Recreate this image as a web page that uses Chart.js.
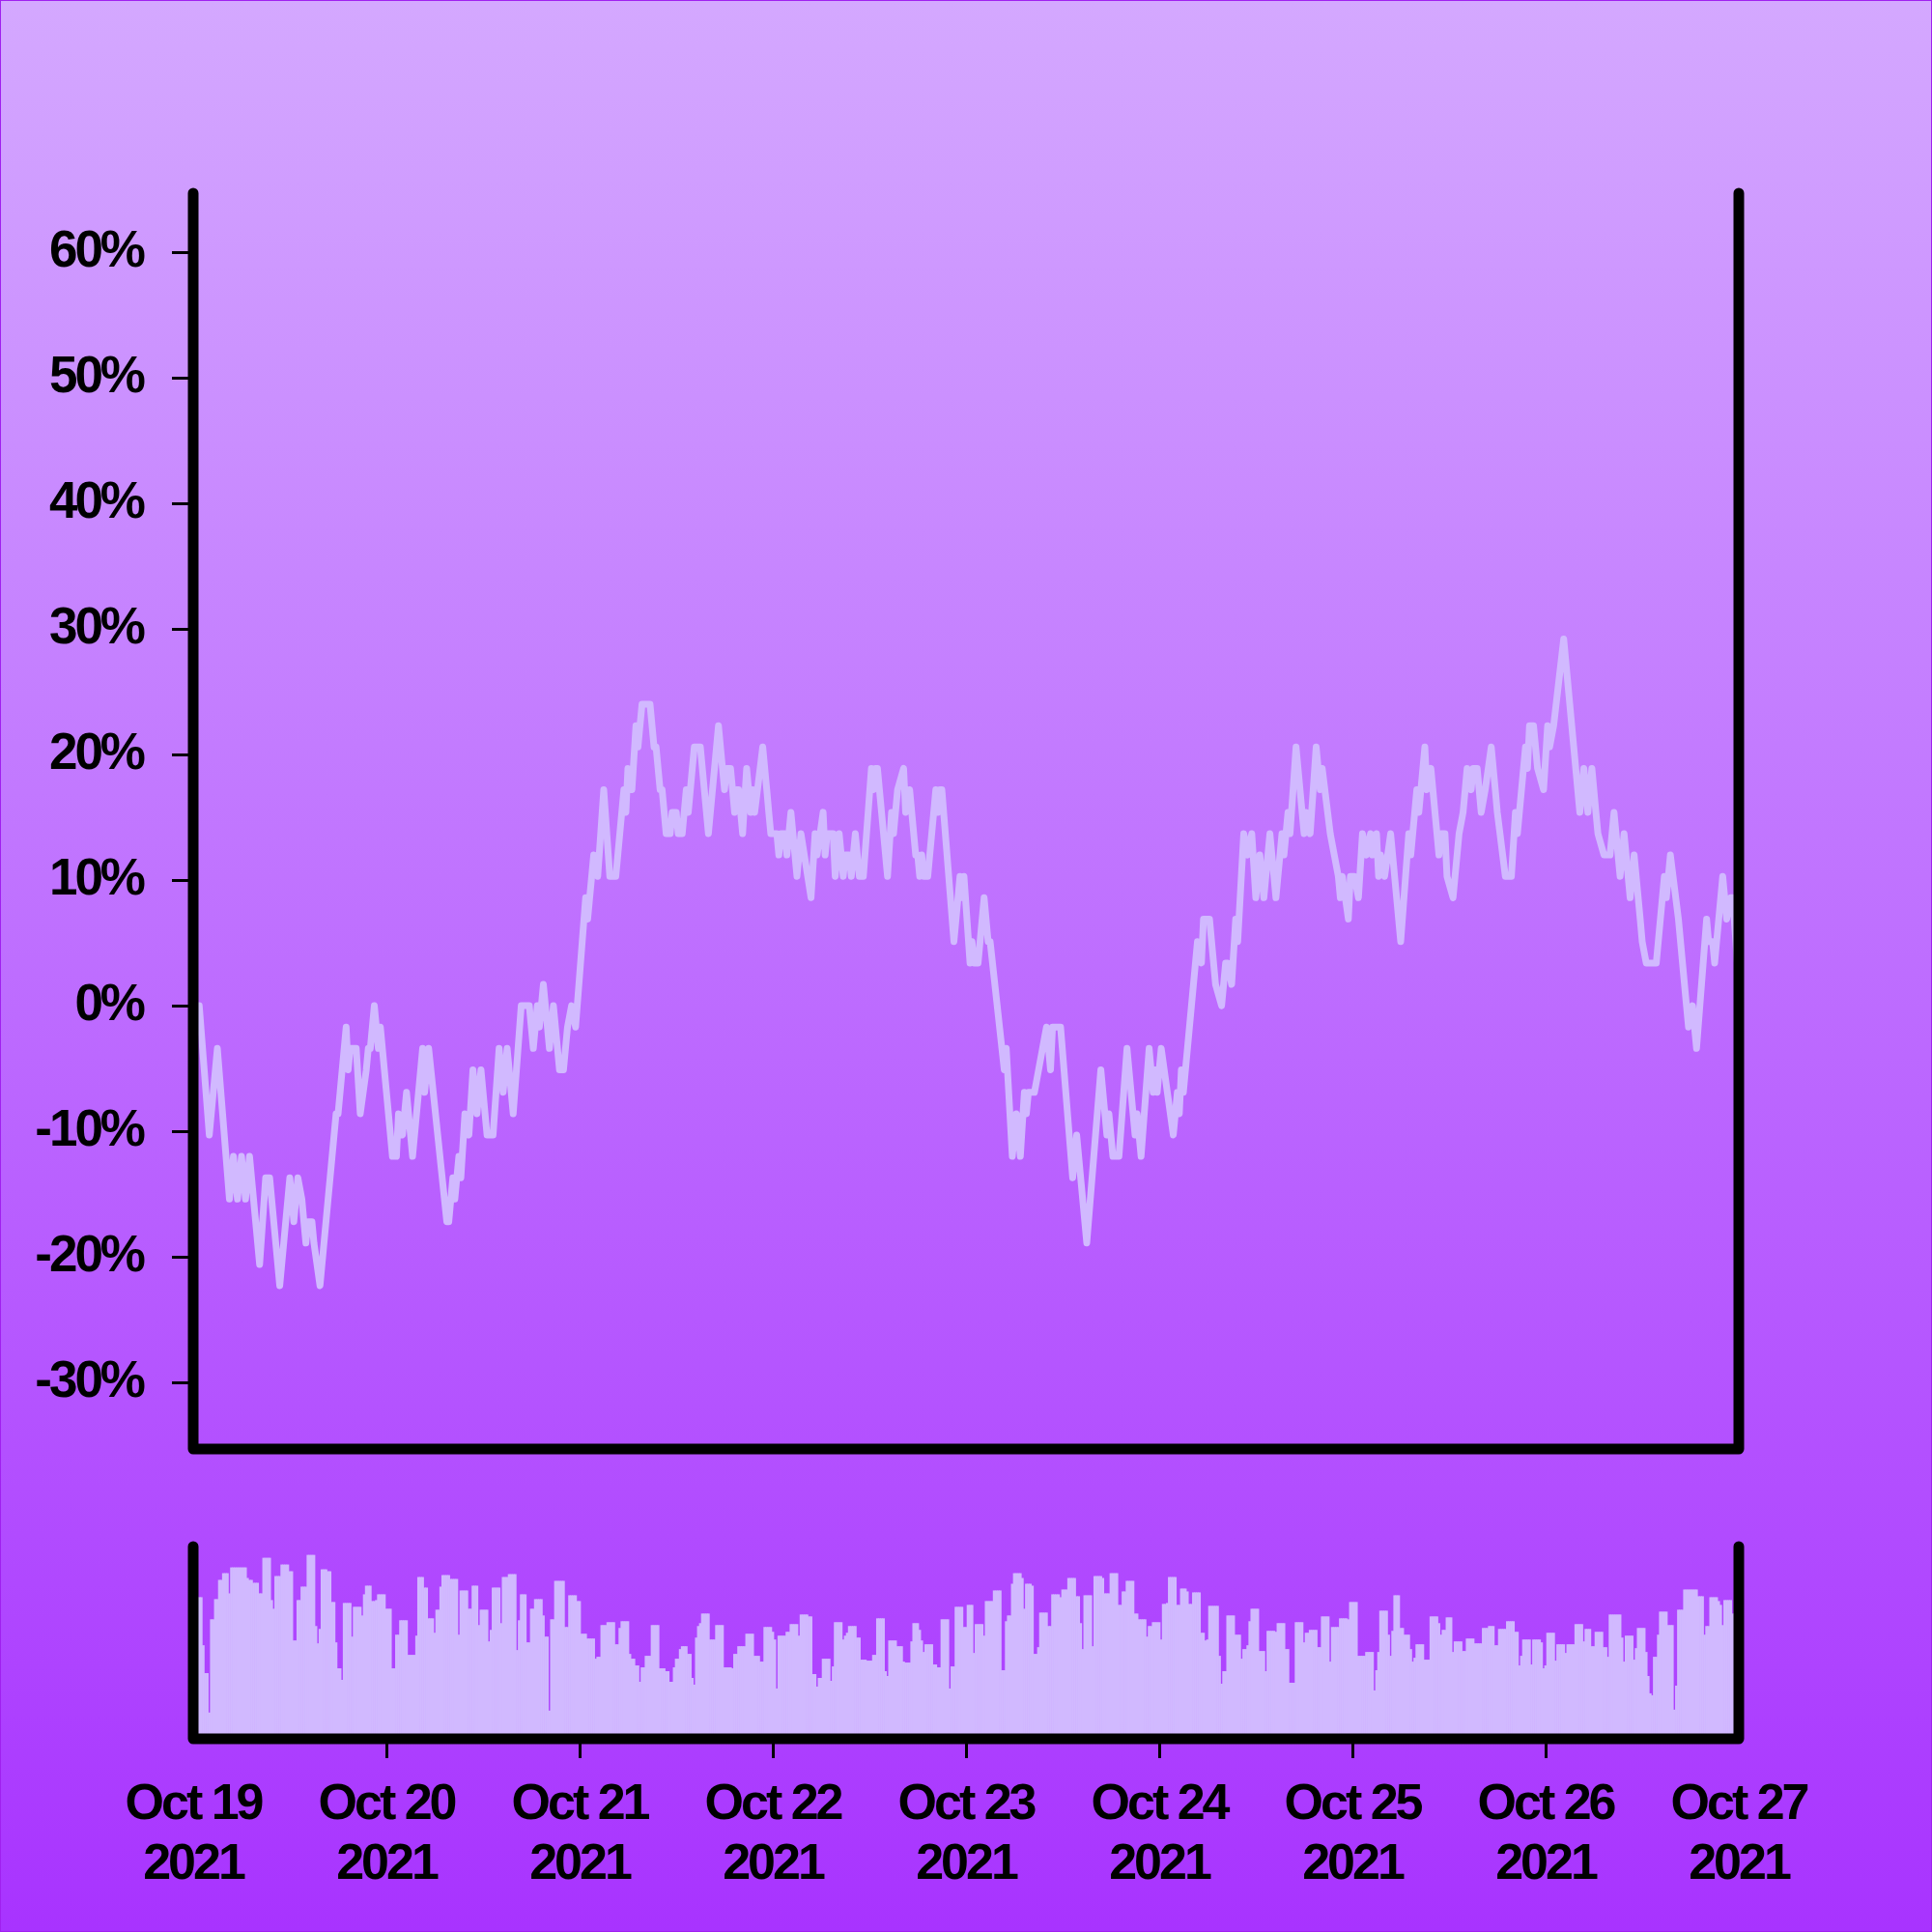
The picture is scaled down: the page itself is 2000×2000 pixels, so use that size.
<!DOCTYPE html>
<html>
<head>
<meta charset="utf-8">
<script src="https://cdn.jsdelivr.net/npm/chart.js@4.4.0/dist/chart.umd.min.js"></script>
<style>
html,body{margin:0;padding:0;background:#fff;}
#page{position:relative;width:2000px;height:2000px;box-sizing:border-box;border:1px solid #a020f0;
  background:linear-gradient(to bottom,#d4a8ff 0%,#a833ff 100%);overflow:hidden;}
#main{position:absolute;left:-1px;top:-1px;}
#vol{position:absolute;left:-1px;top:1519px;}
</style>
</head>
<body>
<div id="page">
<canvas id="main" width="2000" height="1510"></canvas>
<canvas id="vol" width="2000" height="480"></canvas>
</div>
<script>
// ---- categories / tick labels ----
const dayLabels = ['Oct 19','Oct 20','Oct 21','Oct 22','Oct 23','Oct 24','Oct 25','Oct 26','Oct 27'];
const yearLabel = '2021';
const dayTicks = [0,96,192,288,384,480,576,672,768];          // 15-minute slots since Oct 19 00:00
const yTicks = [-30,-20,-10,0,10,20,30,40,50,60];

// ---- price change line (turning points), x = 15-minute slot, y = % change ----
const lineSlots = [
0,3,8,12,18,20,22,24,26,28,33,36,38,43,48,50,52,54,55,56,
57,59,60,63,71,72,76,77,78,81,83,86,87,88,90,92,93,99,101,102,
104,106,109,114,115,117,126,127,129,130,132,133,135,137,139,141,143,146,149,152,
154,156,159,163,167,169,171,172,174,177,179,182,184,186,188,190,195,196,199,201,
204,207,210,214,215,216,218,220,221,223,227,229,230,232,233,235,237,238,240,241,
243,245,246,248,249,252,256,
261,263,264,265,267,268,269,270,271,273,275,277,278,279,283,285,286,287,290,291,
292,294,295,296,297,300,301,302,307,309,310,313,314,315,318,319,321,322,323,324,
326,327,328,329,331,333,337,338,339,340,345,347,348,350,353,354,356,359,360,361,
362,363,365,369,370,371,372,378,381,382,383,386,387,388,390,393,395,396,403,404,
407,409,411,413,414,415,418,424,426,427,431,437,439,444,451,454,455,457,460,464,
468,469,471,475,477,478,479,480,481,487,489,490,491,492,499,501,502,505,508,511,
513,514,516,518,519,522,524,526,528,530,532,535,538,541,542,544,545,548,552,553,
555,558,560,561,565,567,569,570,571,574,575,577,579,581,583,585,586,588,589,590,
592,595,600,604,605,608,609,612,613,615,619,620,622,623,626,629,631,633,635,636,
638,640,642,645,647,648,652,655,657,658,662,663,664,666,668,671,673,674,676,681,
689,691,693,695,697,698,701,704,706,709,711,714,716,719,720,722,727,731,732,734,
738,742,743,745,747,752,753,755,756,760,762,764,765,768
];
const lineValues = [
0,0,-10.3,-3.4,-15.4,-12,-15.4,-12,-15.4,-12,-20.6,-13.7,-13.7,-22.3,-13.7,-17.2,-13.7,-15.4,-17.2,-18.9,
-17.2,-17.2,-18.9,-22.3,-8.6,-8.6,-1.7,-5.1,-3.4,-3.4,-8.6,-5.1,-3.4,-3.4,0,-3.4,-1.7,-12,-12,-8.6,
-10.3,-6.9,-12,-3.4,-6.9,-3.4,-17.2,-17.2,-13.7,-15.4,-12,-13.7,-8.6,-10.3,-5.1,-8.6,-5.1,-10.3,-10.3,-3.4,
-6.9,-3.4,-8.6,0,0,-3.4,0,-1.7,1.7,-3.4,0,-5.1,-5.1,-1.7,0,-1.7,8.6,6.9,12,10.3,
17.2,10.3,10.3,17.2,15.4,18.9,17.2,22.3,20.6,24,24,20.6,20.6,17.2,17.2,13.7,13.7,15.4,15.4,13.7,
13.7,17.2,15.4,18.9,20.6,20.6,13.7,
22.3,18.9,17.2,18.9,18.9,17.2,15.4,17.2,17.2,13.7,18.9,15.4,17.2,15.4,20.6,17.2,15.4,13.7,13.7,12,
13.7,13.7,12,13.7,15.4,10.3,12,13.7,8.6,13.7,12,15.4,12,13.7,13.7,10.3,13.7,12,10.3,12,
12,10.3,12,13.7,10.3,10.3,18.9,17.2,18.9,18.9,10.3,15.4,13.7,17.2,18.9,15.4,17.2,12,12,10.3,
12,10.3,10.3,17.2,15.4,17.2,17.2,5.1,10.3,8.6,10.3,3.4,5.1,3.4,3.4,8.6,5.1,5.1,-5.1,-3.4,
-12,-8.6,-12,-6.9,-8.6,-6.9,-6.9,-1.7,-5.1,-1.7,-1.7,-13.7,-10.3,-18.9,-5.1,-10.3,-8.6,-12,-12,-3.4,
-10.3,-8.6,-12,-3.4,-6.9,-5.1,-6.9,-5.1,-3.4,-10.3,-6.9,-8.6,-5.1,-6.9,5.1,3.4,6.9,6.9,1.7,0,
3.4,3.4,1.7,6.9,5.1,13.7,12,13.7,8.6,12,8.6,13.7,8.6,13.7,12,15.4,13.7,20.6,13.7,15.4,
13.7,20.6,17.2,18.9,13.7,12,10.3,8.6,10.3,6.9,10.3,10.3,8.6,13.7,12,13.7,12,13.7,10.3,12,
10.3,13.7,5.1,13.7,12,17.2,15.4,20.6,17.2,18.9,12,13.7,13.7,10.3,8.6,13.7,15.4,18.9,17.2,18.9,
18.9,15.4,17.2,20.6,17.2,15.4,10.3,10.3,15.4,13.7,20.6,18.9,22.3,22.3,18.9,17.2,22.3,20.6,22.3,29.2,
15.4,18.9,15.4,18.9,15.4,13.7,12,12,15.4,10.3,13.7,8.6,12,6.9,5.1,3.4,3.4,10.3,8.6,12,
6.9,0,-1.7,0,-3.4,6.9,5.1,5.1,3.4,10.3,6.9,8.6,8.6,1.7
];

// ---- volume per 15-minute slot (slot 0 = Oct 19 00:00) ----
const volumes = [
147,147,147,147,147,97,68,68,27,124,124,145,145,165,165,172,172,172,151,178,
178,178,178,178,178,178,178,167,165,165,162,162,162,151,151,188,188,188,188,144,
135,169,169,169,181,181,181,181,174,174,102,102,144,144,158,158,158,191,191,191,
191,117,99,114,176,176,176,174,174,142,142,100,73,73,61,141,141,141,141,106,
137,137,137,137,128,150,159,159,159,143,143,144,150,150,150,150,135,135,135,73,
73,108,108,123,123,123,123,87,87,87,87,107,168,168,168,157,157,125,125,125,
110,134,134,158,170,170,170,170,166,166,166,166,108,154,154,154,154,135,135,159,
159,159,118,134,134,134,134,101,113,157,157,157,157,120,168,168,168,171,171,171,
171,92,123,150,150,150,100,100,135,135,145,145,145,145,128,106,106,29,124,124,
164,164,164,164,164,116,116,149,149,149,149,143,143,109,109,109,104,104,104,104,
83,85,85,118,118,118,121,121,121,121,98,98,115,122,122,122,122,88,83,83,
76,76,59,74,74,86,86,86,118,118,118,118,73,73,73,70,70,59,59,74,
83,83,93,96,96,96,88,88,63,56,105,117,120,130,130,130,130,103,103,103,
118,118,118,118,74,74,74,74,73,88,88,96,96,96,96,109,109,109,109,86,
86,86,80,80,116,116,116,116,111,103,52,107,107,107,107,111,111,119,119,119,
119,107,129,129,129,129,127,127,67,67,54,63,63,83,83,83,83,60,75,121,
121,121,121,103,107,110,117,117,117,117,105,105,82,82,82,81,81,81,87,87,
125,125,125,125,70,65,102,102,102,102,96,96,96,80,79,79,79,101,120,120,
120,113,102,90,98,98,98,98,77,77,74,74,124,124,124,124,52,75,75,137,
137,137,137,116,116,139,139,139,89,119,119,119,119,107,143,143,143,143,154,154,
154,154,71,71,122,128,128,161,172,172,172,172,167,135,161,161,161,159,88,88,
95,131,131,131,131,117,117,150,150,150,150,147,155,155,155,167,167,167,167,148,
148,120,93,149,149,149,149,96,169,169,169,169,167,151,151,151,172,172,172,172,
139,139,153,153,164,164,164,164,130,130,124,124,124,124,106,117,117,121,121,121,
121,103,140,140,141,168,168,168,168,139,139,156,156,156,153,140,140,152,152,152,
152,110,110,102,103,138,138,138,138,138,86,57,70,70,128,128,128,128,108,108,
108,83,93,93,97,122,135,135,135,135,91,91,91,70,112,112,112,112,111,120,
120,120,120,93,93,58,58,58,121,121,121,121,100,110,110,113,113,113,113,95,
95,127,127,127,127,80,116,116,116,116,125,125,125,125,124,142,142,142,142,86,
86,86,86,90,90,90,90,50,71,90,133,133,133,133,108,86,112,149,149,149,
115,115,108,108,108,93,80,84,98,98,98,98,82,82,82,127,127,127,127,120,
108,113,113,126,126,126,90,101,101,101,101,91,91,104,104,104,104,99,99,99,
99,115,115,115,117,117,117,97,97,114,114,114,114,122,122,122,122,111,111,76,
86,103,103,103,103,77,103,103,103,103,100,73,76,110,110,110,110,81,98,98,
98,98,89,98,98,98,98,119,119,119,119,101,114,114,114,96,96,111,111,111,
111,95,95,85,129,129,129,129,129,129,105,80,107,107,107,107,82,94,115,115,
115,115,90,65,47,45,85,85,108,132,132,132,132,118,118,118,30,55,134,134,
134,155,155,155,155,155,155,155,148,148,148,108,117,117,147,147,147,147,143,139,
118,144,144,144,144,130,130,130,130
];

// ---- styles ----
const MARK_COLOR = '#d1b9ff';
const FONT = {family: "'Liberation Sans', Arial, Helvetica, sans-serif", size: 52, weight: 'bold'};
const Y_FONT = {family: "'Liberation Sans', Arial, Helvetica, sans-serif", size: 53, weight: 'bold'};

const letterSpacingPlugin = {
  id: 'ls',
  beforeDraw(chart) { chart.ctx.letterSpacing = '-3px'; }
};
const framePlugin = {
  id: 'frame',
  afterDraw(chart) {
    const {ctx, chartArea: a} = chart;
    ctx.save();
    ctx.strokeStyle = '#000';
    ctx.lineWidth = 11;
    ctx.lineCap = 'round';
    ctx.lineJoin = 'round';
    ctx.beginPath();
    ctx.moveTo(a.left, a.top);
    ctx.lineTo(a.left, a.bottom);
    ctx.lineTo(a.right, a.bottom);
    ctx.lineTo(a.right, a.top);
    ctx.stroke();
    ctx.restore();
  }
};

const linePoints = lineSlots.map((s, i) => ({x: s, y: lineValues[i]}));
const volumePoints = volumes.map((v, i) => ({x: i, y: v}));

new Chart(document.getElementById('main'), {
  type: 'line',
  data: {datasets: [{
    data: linePoints, borderColor: MARK_COLOR, borderWidth: 7, pointRadius: 0,
    tension: 0, fill: false, borderJoinStyle: 'round'
  }]},
  options: {
    responsive: false, animation: false, devicePixelRatio: 1,
    layout: {padding: {left: 0, right: 200, top: 200, bottom: 10}},
    plugins: {legend: {display: false}, tooltip: {enabled: false}},
    scales: {
      x: {type: 'linear', display: false, min: 0, max: 768},
      y: {
        type: 'linear', min: -35.3, max: 64.7,
        afterBuildTicks: s => { s.ticks = yTicks.map(v => ({value: v})); },
        afterFit: s => { s.width = 200; s.paddingTop = 0; s.paddingBottom = 0; },
        border: {display: false},
        grid: {drawOnChartArea: false, drawTicks: true, tickLength: 22, tickWidth: 3, tickColor: '#000'},
        ticks: {color: '#000', font: Y_FONT, padding: 30, callback: v => v + '%'}
      }
    }
  },
  plugins: [letterSpacingPlugin, framePlugin]
});

new Chart(document.getElementById('vol'), {
  type: 'bar',
  data: {datasets: [{
    data: volumePoints, backgroundColor: MARK_COLOR, borderWidth: 0,
    barPercentage: 1, categoryPercentage: 1
  }]},
  options: {
    responsive: false, animation: false, devicePixelRatio: 1,
    layout: {padding: {left: 200, right: 200, top: 81, bottom: 0}},
    plugins: {legend: {display: false}, tooltip: {enabled: false}},
    scales: {
      x: {
        type: 'linear', min: 0, max: 768, offset: false,
        afterBuildTicks: s => { s.ticks = dayTicks.map(v => ({value: v})); },
        afterFit: s => { s.height = 200; s.paddingLeft = 0; s.paddingRight = 0; },
        border: {display: false},
        grid: {offset: false, drawOnChartArea: false, drawTicks: true, tickLength: 20, tickWidth: 3,
               tickColor: c => (c.index === 0 || c.index === dayTicks.length - 1) ? 'rgba(0,0,0,0)' : '#000'},
        ticks: {color: '#000', font: FONT, padding: 17, maxRotation: 0, autoSkip: false,
                callback: (v, i) => [dayLabels[i], yearLabel]}
      },
      y: {display: false, min: 0, max: 200}
    }
  },
  plugins: [letterSpacingPlugin, framePlugin]
});
</script>
</body>
</html>
